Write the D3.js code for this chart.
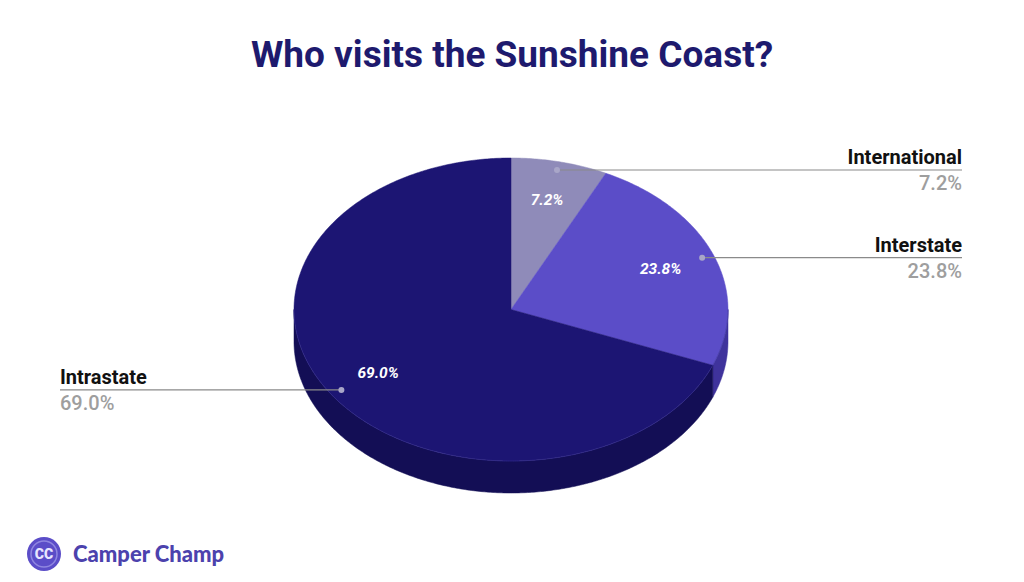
<!DOCTYPE html>
<html><head><meta charset="utf-8">
<script src="https://cdn.jsdelivr.net/npm/d3@7/dist/d3.min.js"></script>
<style>html,body{margin:0;padding:0;background:#fff;}svg{display:block;font-family:Roboto,"Noto Sans",sans-serif;}</style>
</head><body>
<svg id="chart" width="1024" height="582"></svg>
<script>
const categories = ["International", "Interstate", "Intrastate"];
const values = [7.2, 23.8, 69.0];
const valueLabels = ["7.2%", "23.8%", "69.0%"];
const topColors = ["#8f8bb9", "#5b4dc8", "#1c1573"];
const sideColors = ["#6d6994", "#3f339c", "#130e55"];

const svg = d3.select("#chart");
const cx = 511, cy = 309.5, rx = 217, ry = 151.5, depth = 32;

svg.append("text").attr("x", 512).attr("y", 67).attr("text-anchor", "middle")
  .attr("font-size", 37).attr("font-weight", 700).attr("fill", "#1e1a6e")
  .text("Who visits the Sunshine Coast?");

const pie = d3.pie().sort(null).value(d => d)(values);
const px = d3.scaleLinear().domain([-1, 1]).range([cx - rx, cx + rx]);
const py = d3.scaleLinear().domain([-1, 1]).range([cy - ry, cy + ry]);
const pt = (a, r, dy = 0) => [px(r * Math.sin(a)), py(-r * Math.cos(a)) + dy];

function arcPts(a0, a1, dy) {
  const n = Math.max(2, Math.ceil((a1 - a0) / 0.01));
  return d3.range(n + 1).map(i => pt(a0 + (a1 - a0) * i / n, 1, dy));
}
const line = d3.line();

const g = svg.append("g");
pie.forEach((p, i) => {
  const a0 = Math.max(p.startAngle, Math.PI / 2), a1 = Math.min(p.endAngle, 3 * Math.PI / 2);
  if (a1 <= a0) return;
  const top = arcPts(a0, a1, 0);
  const bot = arcPts(a0, a1, depth).reverse();
  g.append("path").attr("d", line(top.concat(bot)) + "Z").attr("fill", sideColors[i])
    .attr("stroke", sideColors[i]).attr("stroke-width", 0.5);
});
pie.forEach((p, i) => {
  const pts = [[cx, cy]].concat(arcPts(p.startAngle, p.endAngle, 0));
  g.append("path").attr("d", line(pts) + "Z").attr("fill", topColors[i])
    .attr("stroke", topColors[i]).attr("stroke-width", 0.5);
});
g.append("path").attr("d", line(arcPts(Math.PI / 2, 3 * Math.PI / 2, 0)))
  .attr("fill", "none").attr("stroke", "#3a3393").attr("stroke-width", 0.8).attr("opacity", 0.7);

pie.forEach((p, i) => {
  const m = (p.startAngle + p.endAngle) / 2;
  const [x, y] = pt(m, 0.74);
  svg.append("text").attr("x", x).attr("y", y + 5).attr("text-anchor", "middle")
    .attr("font-size", 15.5).attr("font-weight", 700).attr("font-style", "italic")
    .attr("fill", "#ffffff").text(valueLabels[i]);
});

pie.forEach((p, i) => {
  const m = (p.startAngle + p.endAngle) / 2;
  const [x, y] = pt(m, 0.945);
  const right = Math.sin(m) > 0;
  const ex = right ? 962 : 60;
  svg.append("line").attr("x1", x).attr("y1", y).attr("x2", ex).attr("y2", y)
    .attr("stroke", "#8a8a8a").attr("stroke-width", 1.2);
  svg.append("circle").attr("cx", x).attr("cy", y).attr("r", 3).attr("fill", "#a9a6c8");
  svg.append("text").attr("x", ex).attr("y", y - 6).attr("text-anchor", right ? "end" : "start")
    .attr("font-size", 20).attr("font-weight", 700).attr("fill", "#111").text(categories[i]);
  svg.append("text").attr("x", ex).attr("y", y + 20).attr("text-anchor", right ? "end" : "start")
    .attr("font-size", 20).attr("font-weight", 500).attr("fill", "#9e9e9e").text(valueLabels[i]);
});

svg.append("circle").attr("cx", 44).attr("cy", 554).attr("r", 17).attr("fill", "#5b4dc8");
svg.append("circle").attr("cx", 44).attr("cy", 554).attr("r", 13).attr("fill", "none")
  .attr("stroke", "#8f86e0").attr("stroke-width", 1.5);
svg.append("text").attr("x", 44).attr("y", 559).attr("text-anchor", "middle")
  .attr("font-size", 14).attr("font-weight", 900).attr("fill", "#e8e6ff").text("CC");
svg.append("text").attr("x", 73).attr("y", 562).attr("font-size", 22).attr("font-weight", 900)
  .attr("fill", "#4c42ad").attr("font-family", "Lato, Roboto, sans-serif").text("Camper Champ");
</script>
</body></html>
